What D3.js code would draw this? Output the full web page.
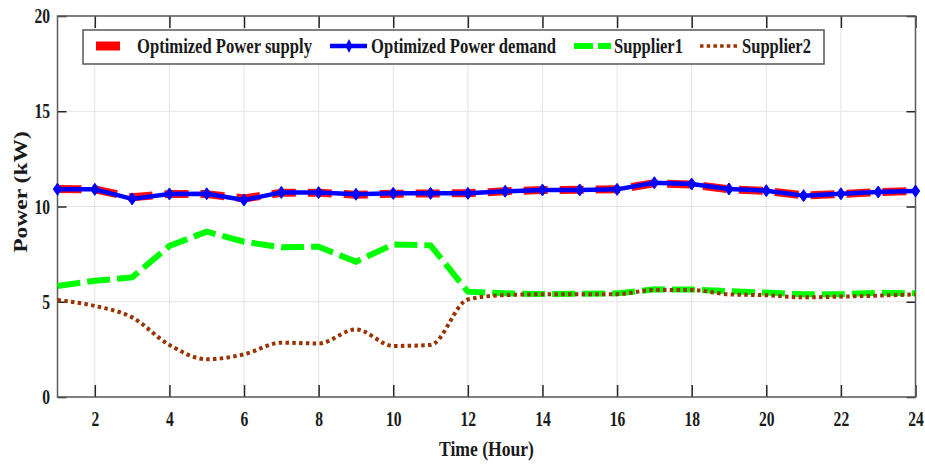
<!DOCTYPE html>
<html>
<head>
<meta charset="utf-8">
<script src="https://cdn.jsdelivr.net/npm/d3@7/dist/d3.min.js"></script>
<style>
  html, body { margin: 0; padding: 0; background: #fff; }
  svg { display: block; }
  text { font-family: "Liberation Serif", "Times New Roman", serif; font-weight: bold; fill: #1a1a1a; }
</style>
</head>
<body>
<svg id="chart" width="925" height="464"></svg>
<script>
// Hourly power balance: optimized supply/demand and the two suppliers' shares (kW)
const hours = d3.range(1, 25);
const powerSupply = [10.92, 10.90, 10.48, 10.66, 10.65, 10.42, 10.72, 10.72, 10.62, 10.67, 10.68, 10.70,
                     10.80, 10.86, 10.88, 10.90, 11.22, 11.15, 10.90, 10.82, 10.58, 10.66, 10.76, 10.82];
const powerDemand = [10.91, 10.90, 10.40, 10.66, 10.67, 10.34, 10.74, 10.73, 10.64, 10.69, 10.69, 10.69,
                     10.80, 10.87, 10.87, 10.90, 11.25, 11.18, 10.92, 10.83, 10.57, 10.67, 10.76, 10.81];
const supplier1 = [5.83, 6.10, 6.28, 7.93, 8.68, 8.15, 7.86, 7.89, 7.10, 8.01, 7.96, 5.53,
                   5.44, 5.41, 5.42, 5.44, 5.65, 5.64, 5.56, 5.48, 5.39, 5.40, 5.47, 5.44];
const supplier2 = [5.09, 4.78, 4.18, 2.73, 1.98, 2.24, 2.85, 2.81, 3.55, 2.68, 2.73, 5.12,
                   5.35, 5.39, 5.39, 5.40, 5.62, 5.62, 5.39, 5.34, 5.23, 5.27, 5.32, 5.39];
const xTicks = d3.range(2, 25, 2);
const yTicks = [0, 5, 10, 15, 20];
const legendLabels = ["Optimized Power supply", "Optimized Power demand", "Supplier1", "Supplier2"];
const xTitle = "Time (Hour)";
const yTitle = "Power (kW)";

const svg = d3.select("#chart");
const plot = { left: 57.5, right: 915.5, top: 16, bottom: 397 };
const SX = 0.78; // horizontal squeeze applied to all lettering

const x = d3.scaleLinear().domain([1, 24]).range([plot.left, plot.right]);
const y = d3.scaleLinear().domain([0, 20]).range([plot.bottom, plot.top]);

// grid
const grid = svg.append("g").attr("stroke", "#e3e3e3").attr("stroke-width", 1);
xTicks.forEach(t => grid.append("line")
  .attr("x1", x(t)).attr("x2", x(t)).attr("y1", plot.top).attr("y2", plot.bottom));
yTicks.forEach(t => grid.append("line")
  .attr("x1", plot.left).attr("x2", plot.right).attr("y1", y(t)).attr("y2", y(t)));

// axes: ticks point inward, box drawn on all four sides
function styleAxis(g) {
  g.select(".domain").remove();
  g.selectAll(".tick line").attr("stroke", "#262626").attr("stroke-width", 1.5);
}
const fmt = d3.format("d");
const gx = svg.append("g").attr("transform", `translate(0,${plot.bottom})`)
  .call(d3.axisBottom(x).tickValues(xTicks).tickSizeInner(-12).tickSizeOuter(0).tickFormat(fmt));
styleAxis(gx);
gx.selectAll(".tick text").attr("y", 0).attr("dy", 0)
  .attr("transform", `translate(0,29) scale(${SX},1)`)
  .style("font-size", "20px").attr("fill", "#1a1a1a");

const gxTop = svg.append("g").attr("transform", `translate(0,${plot.top})`)
  .call(d3.axisTop(x).tickValues(xTicks).tickSizeInner(-12).tickSizeOuter(0).tickFormat(""));
styleAxis(gxTop);

const gy = svg.append("g").attr("transform", `translate(${plot.left},0)`)
  .call(d3.axisLeft(y).tickValues(yTicks).tickSizeInner(-9).tickSizeOuter(0).tickFormat(fmt));
styleAxis(gy);
gy.selectAll(".tick text").attr("x", 0).attr("dy", 0)
  .attr("transform", `translate(-7.5,6.5) scale(${SX},1)`)
  .style("font-size", "20px").attr("fill", "#1a1a1a");

const gyRight = svg.append("g").attr("transform", `translate(${plot.right},0)`)
  .call(d3.axisRight(y).tickValues(yTicks).tickSizeInner(-9).tickSizeOuter(0).tickFormat(""));
styleAxis(gyRight);

svg.append("rect")
  .attr("x", plot.left).attr("y", plot.top)
  .attr("width", plot.right - plot.left).attr("height", plot.bottom - plot.top)
  .attr("fill", "none").attr("stroke", "#5a5a5a").attr("stroke-width", 1.5);

// series
const lineLinear = d3.line().x((d, i) => x(hours[i])).y(d => y(d));
const lineSmooth = d3.line().x((d, i) => x(hours[i])).y(d => y(d)).curve(d3.curveMonotoneX);

svg.append("path").datum(powerSupply).attr("d", lineLinear)
  .attr("fill", "none").attr("stroke", "#ff0000").attr("stroke-width", 8)
  .attr("stroke-dasharray", "24,12").attr("stroke-linejoin", "round").attr("opacity", 0.95);

svg.append("path").datum(powerDemand).attr("d", lineLinear)
  .attr("fill", "none").attr("stroke", "#0000ff").attr("stroke-width", 4.5)
  .attr("stroke-linejoin", "round");

const diamond = (hw, hh) => `M0,${-hh}L${hw},0L0,${hh}L${-hw},0Z`;
svg.append("g").selectAll("path").data(powerDemand).join("path")
  .attr("transform", (d, i) => `translate(${x(hours[i])},${y(d)})`)
  .attr("d", diamond(4.2, 6)).attr("fill", "#0000ff").attr("stroke", "#0000ff").attr("stroke-width", 1);

svg.append("path").datum(supplier1).attr("d", lineLinear)
  .attr("fill", "none").attr("stroke", "#00ff00").attr("stroke-width", 6)
  .attr("stroke-dasharray", "23,7");

svg.append("path").datum(supplier2).attr("d", lineSmooth)
  .attr("fill", "none").attr("stroke", "#993300").attr("stroke-width", 4)
  .attr("stroke-dasharray", "3.5,3.3");

// axis titles
svg.append("text").attr("transform", `translate(${(plot.left + plot.right) / 2},456) scale(0.8,1)`)
  .attr("text-anchor", "middle").style("font-size", "22px").text(xTitle);
svg.append("text").attr("transform", `translate(27,192) scale(0.8,1) rotate(-90)`)
  .attr("text-anchor", "middle").style("font-size", "23.5px").text(yTitle);

// legend
const lg = svg.append("g");
lg.append("rect").attr("x", 83).attr("y", 30).attr("width", 741).attr("height", 34)
  .attr("fill", "#fff").attr("stroke", "#555").attr("stroke-width", 1.5);
const ly = 46;
lg.append("line").attr("x1", 96).attr("x2", 120).attr("y1", ly).attr("y2", ly)
  .attr("stroke", "#ff0000").attr("stroke-width", 9);
lg.append("line").attr("x1", 330).attr("x2", 367).attr("y1", ly).attr("y2", ly)
  .attr("stroke", "#0000ff").attr("stroke-width", 4.5);
lg.append("path").attr("transform", `translate(349,${ly})`).attr("d", diamond(3.5, 7))
  .attr("fill", "#0000ff");
lg.append("line").attr("x1", 574).attr("x2", 611).attr("y1", ly).attr("y2", ly)
  .attr("stroke", "#00ff00").attr("stroke-width", 6).attr("stroke-dasharray", "19,5");
lg.append("line").attr("x1", 700).attr("x2", 740).attr("y1", ly).attr("y2", ly)
  .attr("stroke", "#993300").attr("stroke-width", 3.5).attr("stroke-dasharray", "3.5,3.2");

const legendX = [137, 371, 614, 742];
const legendW = [175, 185, 69, 69];
legendLabels.forEach((lab, i) => {
  lg.append("text").attr("x", legendX[i]).attr("y", 53)
    .attr("textLength", legendW[i]).attr("lengthAdjust", "spacingAndGlyphs")
    .style("font-size", "20px").text(lab);
});
</script>
</body>
</html>
